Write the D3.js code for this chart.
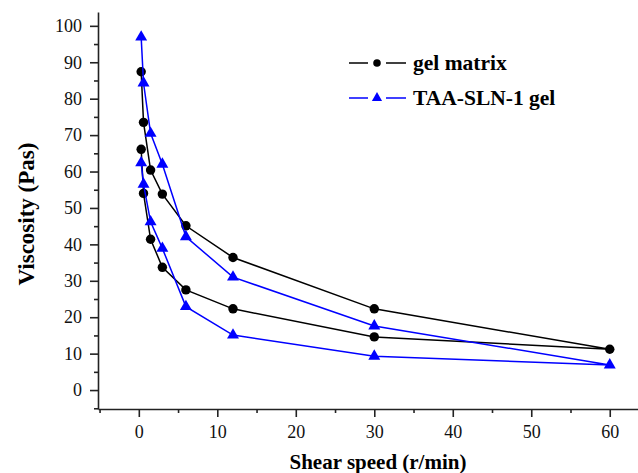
<!DOCTYPE html>
<html>
<head>
<meta charset="utf-8">
<script src="https://cdn.jsdelivr.net/npm/d3@7"></script>
<style>
  body { margin: 0; background: #fff; }
  svg { display: block; font-family: "Liberation Serif", "Times New Roman", serif; }
</style>
</head>
<body>
<div id="chart"></div>
<script>
// shear speeds, up then down (r/min)
const speeds = [0.3, 0.6, 1.5, 3, 6, 12, 30, 60, 30, 12, 6, 3, 1.5, 0.6, 0.3];
const gelMatrix = [87.4, 73.5, 60.4, 53.8, 45.1, 36.4, 22.3, 11.2, 14.6, 22.3, 27.5, 33.7, 41.4, 54.0, 66.1];
const taaSln = [96.9, 84.3, 70.5, 62.0, 42.1, 31.0, 17.6, 6.9, 9.3, 15.1, 22.9, 38.9, 46.2, 56.5, 62.4];
const xTicks = [0, 10, 20, 30, 40, 50, 60];
const yTicks = [0, 10, 20, 30, 40, 50, 60, 70, 80, 90, 100];
const seriesNames = ["gel matrix", "TAA-SLN-1 gel"];

const width = 638,
    height = 473,
    margin = ({ top: 12, right: 0, bottom: 64, left: 98 });

const svg = d3.select("#chart")
    .append("svg")
    .attr("width", width)
    .attr("height", height);

const x = d3.scaleLinear()
    .domain([-5.2, 63.6])
    .range([margin.left, width - margin.right]);

const y = d3.scaleLinear()
    .domain([-5.2, 103.8])
    .range([height - margin.bottom, margin.top]);

// minor ticks every 5
const xMinor = d3.range(-5, 64, 5).filter(v => v % 10 !== 0);
const yMinor = d3.range(-5, 104, 5).filter(v => v % 10 !== 0);

const xAxis = g => g
    .attr("transform", `translate(0,${height - margin.bottom})`)
    .call(d3.axisBottom(x).tickValues(xTicks).tickSize(8).tickPadding(8).tickSizeOuter(0))
    .call(g => g.append("g")
        .call(d3.axisBottom(x).tickValues(xMinor).tickSize(4).tickFormat("").tickSizeOuter(0))
        .select(".domain").remove());

const yAxis = g => g
    .attr("transform", `translate(${margin.left},0)`)
    .call(d3.axisLeft(y).tickValues(yTicks).tickSize(8).tickPadding(8).tickSizeOuter(0))
    .call(g => g.append("g")
        .call(d3.axisLeft(y).tickValues(yMinor).tickSize(4).tickFormat("").tickSizeOuter(0))
        .select(".domain").remove());

svg.append("g").call(xAxis);
svg.append("g").call(yAxis);

// drop d3's sans-serif default on the axis groups
svg.selectAll("g")
    .attr("font-family", null)
    .attr("font-size", null);

svg.selectAll(".domain, .tick line")
    .attr("stroke", "#222")
    .attr("stroke-width", 1.6);

svg.selectAll(".tick text")
    .style("font-family", "'Liberation Serif', 'Times New Roman', serif")
    .style("font-size", "18px")
    .attr("fill", "#111");

// axis titles
svg.append("text")
    .attr("x", 378)
    .attr("y", 469)
    .attr("text-anchor", "middle")
    .style("font-weight", "bold")
    .style("font-size", "21px")
    .text("Shear speed (r/min)");

svg.append("text")
    .attr("transform", "translate(34,214) rotate(-90)")
    .attr("text-anchor", "middle")
    .style("font-weight", "bold")
    .style("font-size", "23px")
    .text("Viscosity (Pas)");

const series = [
    { name: seriesNames[0], values: gelMatrix, color: "#000000", symbol: d3.symbolCircle, size: 70 },
    { name: seriesNames[1], values: taaSln, color: "#0000ff", symbol: d3.symbolTriangle, size: 62 }
];

const line = d3.line()
    .x((d, i) => x(speeds[i]))
    .y(d => y(d));

series.forEach(s => {
    svg.append("path")
        .attr("d", line(s.values))
        .attr("fill", "none")
        .attr("stroke", s.color)
        .attr("stroke-width", 1.5);

    svg.append("g")
        .selectAll("path")
        .data(s.values)
        .join("path")
        .attr("transform", (d, i) => `translate(${x(speeds[i])},${y(d)})`)
        .attr("d", d3.symbol().type(s.symbol).size(s.size))
        .attr("fill", s.color);
});

// legend
const legend = svg.append("g");
series.forEach((s, i) => {
    const ly = 63 + i * 35;
    const g = legend.append("g").attr("transform", `translate(349,${ly})`);
    g.append("line").attr("x1", 0).attr("x2", 19).attr("y1", 0).attr("y2", 0)
        .attr("stroke", s.color).attr("stroke-width", 1.5);
    g.append("line").attr("x1", 37).attr("x2", 57).attr("y1", 0).attr("y2", 0)
        .attr("stroke", s.color).attr("stroke-width", 1.5);
    g.append("path")
        .attr("transform", "translate(28,0)")
        .attr("d", d3.symbol().type(s.symbol).size(45))
        .attr("fill", s.color);
    g.append("text")
        .attr("x", 64)
        .attr("y", 7)
        .style("font-weight", "bold")
        .style("font-size", "21.5px")
        .text(s.name);
});
</script>
</body>
</html>
